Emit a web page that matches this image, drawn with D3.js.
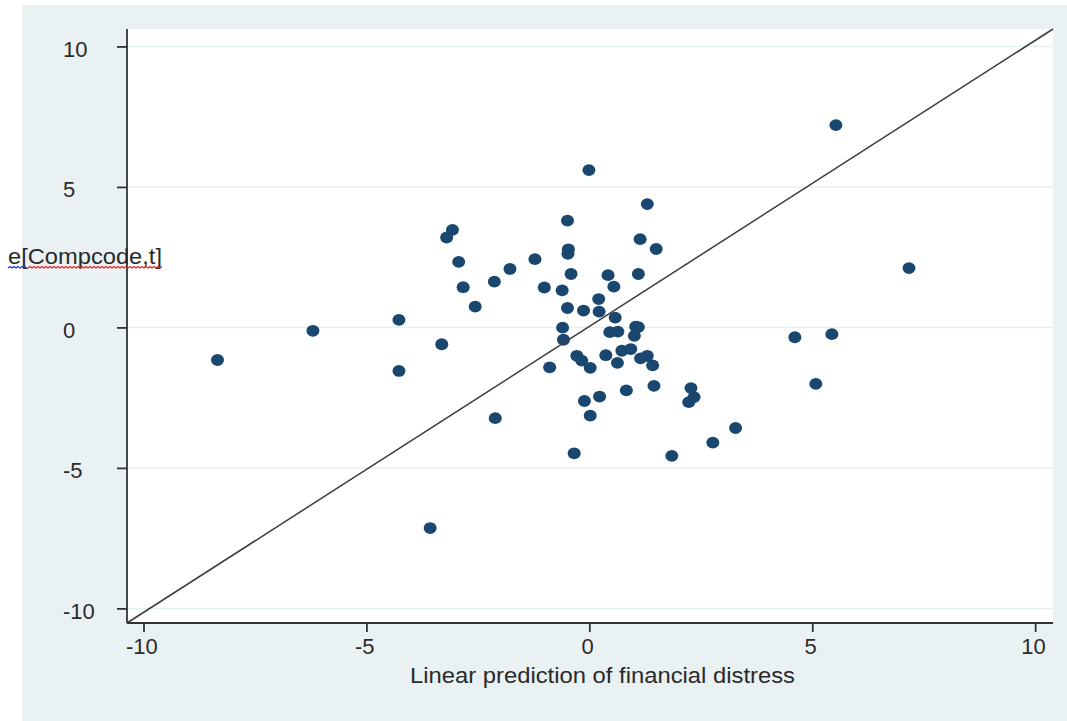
<!DOCTYPE html>
<html>
<head>
<meta charset="utf-8">
<script src="https://cdn.jsdelivr.net/npm/d3@7"></script>
<style>
  html, body { margin: 0; padding: 0; background: #ffffff; }
  svg { display: block; }
  text { font-family: "Liberation Sans", Arial, sans-serif; }
</style>
</head>
<body>
<svg id="chart" width="1067" height="721"></svg>
<script>
// ---- data ----
const xValues = [-8.34, -6.20, -4.27, -4.27, -3.31, -3.07, -3.20, -2.93, -2.83, -2.56,
  -2.13, -1.78, -2.11, -3.57, -1.22, -1.01, -0.89, -0.61, -0.49, -0.47,
  -0.48, -0.41, -0.49, -0.60, -0.58, -0.28, -0.17, -0.34, -0.13, -0.01,
  -0.11, 0.02, 0.02, 0.21, 0.22, 0.23, 0.42, 0.37, 0.46, 0.55,
  0.58, 0.64, 0.63, 0.73, 0.83, 0.93, 1.01, 1.04, 1.10, 1.10,
  1.14, 1.15, 1.30, 1.30, 1.42, 1.45, 1.50, 1.85, 2.28, 2.35,
  2.23, 2.77, 3.28, 4.61, 5.08, 5.44, 5.53, 7.17];
const yValues = [-1.16, -0.12, 0.27, -1.55, -0.60, 3.47, 3.20, 2.33, 1.43, 0.74,
  1.63, 2.08, -3.23, -7.14, 2.43, 1.42, -1.42, 1.32, 3.80, 2.78,
  2.62, 1.90, 0.69, -0.01, -0.44, -1.01, -1.18, -4.48, 0.60, 5.60,
  -2.62, -1.44, -3.14, 1.01, 0.56, -2.46, 1.86, -0.99, -0.17, 1.45,
  0.35, -0.15, -1.26, -0.83, -2.24, -0.77, -0.30, 0.03, 0.01, 1.90,
  3.14, -1.10, 4.39, -1.01, -1.35, -2.08, 2.79, -4.57, -2.16, -2.48,
  -2.66, -4.10, -3.58, -0.35, -2.01, -0.24, 7.20, 2.11];
const xDomain = [-10.37, 10.40];
const yDomain = [-10.52, 10.62];
const lineX = [-10.37, 10.40];
const lineY = [-10.52, 10.62];
const xTicks = [-10, -5, 0, 5, 10];
const yTicks = [-10, -5, 0, 5, 10];
const xTitle = "Linear prediction of financial distress";
const yTitle = "e[Compcode,t]";

// ---- drawing ----
const svg = d3.select("#chart");
const plot = { left: 127, right: 1053, top: 29, bottom: 623 };
const FONT = "'Liberation Sans', Arial, sans-serif";

svg.append("rect").attr("x", 22).attr("y", 5).attr("width", 1045).attr("height", 716)
  .attr("fill", "#eaf1f3");
svg.append("rect").attr("x", plot.left).attr("y", plot.top)
  .attr("width", plot.right - plot.left).attr("height", plot.bottom - plot.top)
  .attr("fill", "#ffffff");

const x = d3.scaleLinear().domain(xDomain).range([plot.left, plot.right]);
const y = d3.scaleLinear().domain(yDomain).range([plot.bottom, plot.top]);

// gridlines
svg.append("g").selectAll("line").data(yTicks).join("line")
  .attr("x1", plot.left).attr("x2", plot.right)
  .attr("y1", d => y(d)).attr("y2", d => y(d))
  .attr("stroke", "#e6eff1").attr("stroke-width", 1.5);

// points
const pts = xValues.map((v, i) => ({ x: v, y: yValues[i] }));
svg.append("g").selectAll("ellipse").data(pts).join("ellipse")
  .attr("cx", d => x(d.x)).attr("cy", d => y(d.y))
  .attr("rx", 6.5).attr("ry", 5.9)
  .attr("fill", "#1a476f");

// diagonal line
svg.append("line")
  .attr("x1", x(lineX[0])).attr("y1", y(lineY[0]))
  .attr("x2", x(lineX[1])).attr("y2", y(lineY[1]))
  .attr("stroke", "#3c3c3c").attr("stroke-width", 1.5);

// axes
const fmt = d => String(d);
const xAxis = d3.axisBottom(x).tickValues(xTicks).tickSize(9).tickPadding(6).tickFormat(fmt);
const yAxis = d3.axisLeft(y).tickValues(yTicks).tickSize(10).tickPadding(0).tickFormat(fmt);

const gx = svg.append("g").attr("transform", `translate(0,${plot.bottom})`).call(xAxis);
const gy = svg.append("g").attr("transform", `translate(${plot.left},0)`).call(yAxis);
[gx, gy].forEach(g => {
  g.select(".domain").attr("stroke", "#333").attr("stroke-width", 1.8);
  g.selectAll(".tick line").attr("stroke", "#333").attr("stroke-width", 1.8);
  g.selectAll(".tick text").attr("fill", "#2a2a2a").style("font-size", "22px")
    .style("font-family", FONT);
});
gx.select(".domain").attr("d", `M${plot.left},0H${plot.right}`);
gy.select(".domain").attr("d", `M0,${plot.bottom}V${plot.top}`);
gx.selectAll(".tick text").attr("dy", "0.71em").attr("dx", "-0.1em");
gy.selectAll(".tick text").attr("text-anchor", "start").attr("x", 63 - plot.left).attr("dy", "0.45em");

// titles
svg.append("text").attr("x", 410).attr("y", 683).attr("text-anchor", "start")
  .attr("fill", "#2a2a2a").style("font-size", "22px")
  .attr("textLength", 385).attr("lengthAdjust", "spacingAndGlyphs").text(xTitle);
svg.append("text").attr("x", 8).attr("y", 264).attr("text-anchor", "start")
  .attr("fill", "#2a2a2a").style("font-size", "22px")
  .attr("textLength", 154).attr("lengthAdjust", "spacingAndGlyphs").text(yTitle);

// spell-check style squiggles under y title
function squiggle(x0, x1, yy) {
  let d = `M${x0},${yy}`;
  let up = true;
  for (let xx = x0 + 2; xx <= x1; xx += 2) { d += `L${xx},${yy + (up ? -1.5 : 0)}`; up = !up; }
  return d;
}
svg.append("path").attr("d", squiggle(8, 26, 268)).attr("fill", "none").attr("stroke", "#2233ee").attr("stroke-width", 1.2);
svg.append("path").attr("d", squiggle(28, 162, 268)).attr("fill", "none").attr("stroke", "#ee2222").attr("stroke-width", 1.2);
</script>
</body>
</html>
